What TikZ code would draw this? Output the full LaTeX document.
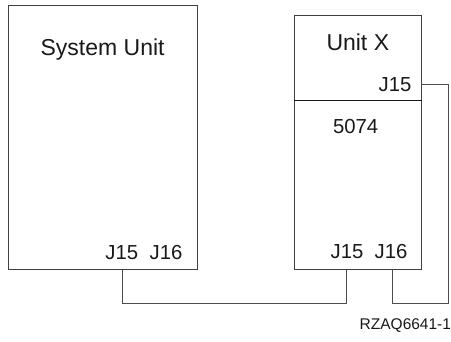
\documentclass[tikz,border=0pt]{standalone}
\usepackage{fontspec}
\setmainfont{Liberation Sans}
\begin{document}
\begin{tikzpicture}[x=1pt,y=-1pt,
  box/.style={draw=black!75,line width=0.9pt,inner sep=0pt,outer sep=0pt,anchor=north west},
  wire/.style={draw=black!70,line width=0.9pt},
  title/.style={inner sep=0pt,anchor=base west,text=black!90,font=\fontsize{23}{26}\selectfont},
  jlab/.style={inner sep=0pt,anchor=base west,text=black!90,font=\fontsize{20.3}{24}\selectfont},
  figlab/.style={inner sep=0pt,anchor=base west,text=black!90,font=\fontsize{15.5}{18}\selectfont}]
\useasboundingbox (0,0) rectangle (451,341);
% boxes
\node[box,minimum width=189.3pt,minimum height=263.6pt] (sys) at (8,5.7) {};
\node[box,minimum width=127pt,minimum height=85.4pt] (ux) at (294.3,15.3) {};
\node[box,draw=black!90,line width=1.1pt,minimum width=127pt,minimum height=168.6pt] (mod) at (294.3,100.7) {};
\draw[draw=black!75,line width=0.9pt] (mod.south west) -- (mod.south east) -- (mod.north east);
\draw[draw=black!75,line width=0.9pt] (mod.north west) -- (mod.south west);
% texts
\node[title] (tsys) at (40.4,55) {System Unit};
\node[title] (tux) at (326.3,50) {Unit X};
\node[jlab] (t5074) at (332.8,133) {5074};
\node[jlab] (sj15) at (105.2,259) {J15};
\node[jlab] (sj16) at (149.5,259) {J16};
\node[jlab] (uj15) at (378.5,91) {J15};
\node[jlab] (mj15) at (330.5,258.5) {J15};
\node[jlab] (mj16) at (374.5,258.5) {J16};
\node[figlab] (fig) at (359.5,329) {RZAQ6641-1};
% connector ends
\coordinate (sysJ15) at (122.3,269.3);
\coordinate (modJ15) at (346.7,269.3);
\coordinate (modJ16) at (392.3,269.3);
\coordinate (uxJ15) at (421.3,84.3);
\coordinate (loopR) at (448,303.5);
% wires
\draw[wire] (sysJ15) -- ++(0,34.2) -| (modJ15);
\draw[wire] (uxJ15) -| (loopR) -| (modJ16);
\end{tikzpicture}
\end{document}
